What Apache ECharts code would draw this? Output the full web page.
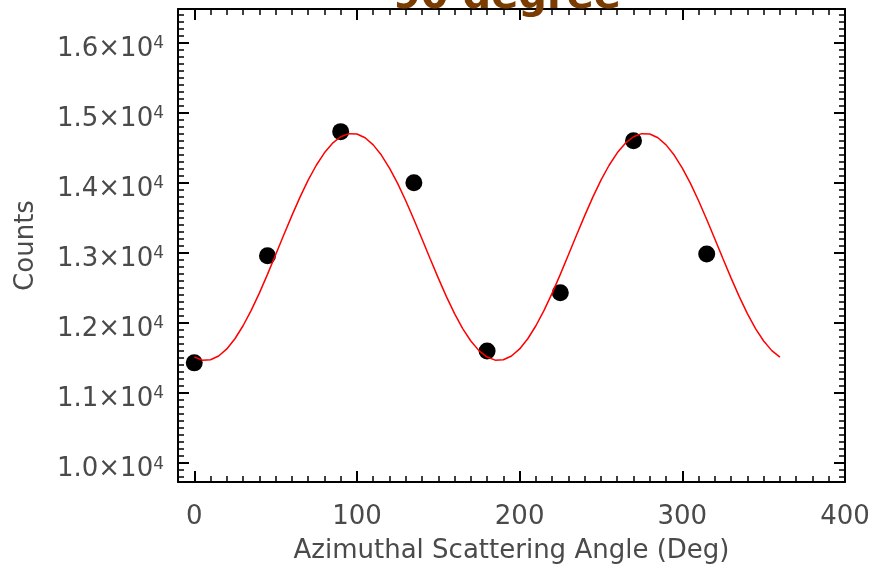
<!DOCTYPE html>
<html><head><meta charset="utf-8">
<script src="https://cdn.jsdelivr.net/npm/echarts@6/dist/echarts.min.js"></script>
<style>html,body{margin:0;padding:0;background:#fff}#c{width:874px;height:566px}</style>
</head><body><div id="c"></div>
<script>
// Measured points
const angles = [0, 45, 90, 135, 180, 225, 270, 315];
const counts = [11430, 12960, 14730, 14000, 11600, 12430, 14600, 12985];
// Fitted curve (every 5 degrees)
const fitAngles = [0,5,10,15,20,25,30,35,40,45,50,55,60,65,70,75,80,85,90,95,100,105,110,115,120,125,130,135,140,145,150,155,160,165,170,175,
  180,185,190,195,200,205,210,215,220,225,230,235,240,245,250,255,260,265,270,275,280,285,290,295,300,305,310,315,320,325,330,335,340,345,350,355,360];
const fitCounts = [11513,11469,11474,11528,11629,11774,11960,12179,12426,12693,12972,13254,13531,13795,14037,14250,14428,14565,14657,14701,14696,14642,14541,14396,14210,13991,13744,13477,13198,12916,12639,12375,12133,11920,11742,11605,
  11513,11469,11474,11528,11629,11774,11960,12179,12426,12693,12972,13254,13531,13795,14037,14250,14428,14565,14657,14701,14696,14642,14541,14396,14210,13991,13744,13477,13198,12916,12639,12375,12133,11920,11742,11605,11513];
// Axis ticks
const xMajorTicks = [0, 100, 200, 300, 400];
const yMajorTicks = [10000, 11000, 12000, 13000, 14000, 15000, 16000];
const xMinorTicks = [];
for (let v = 0; v <= 400; v += 10) xMinorTicks.push(v);
const yMinorTicks = [];
for (let v = 9800; v <= 16400; v += 100) yMinorTicks.push(v);

const titleText = '90 degree';
const xName = 'Azimuthal Scattering Angle (Deg)';
const yName = 'Counts';

const FONT = 'DejaVu Sans';
const TXT = '#4a4a4a';
const XMIN = -10, XMAX = 400, YMIN = 9730, YMAX = 16480;

function xAx(pos, major, withLabel) {
  return {
    type: 'value', position: pos, min: XMIN, max: XMAX,
    axisLine: { show: major, onZero: false, lineStyle: { color: '#000', width: 2 } },
    splitLine: { show: false },
    axisTick: { show: true, inside: true, length: major ? 11 : 6,
      customValues: major ? xMajorTicks : xMinorTicks,
      lineStyle: { color: '#000', width: major ? 2 : 1.5 } },
    axisLabel: withLabel ? { show: true, customValues: xMajorTicks, color: TXT,
      fontSize: 26, fontFamily: FONT, margin: 22 } : { show: false },
    name: withLabel ? xName : '',
    nameLocation: 'middle', nameGap: 56,
    nameTextStyle: { color: TXT, fontSize: 26, fontFamily: FONT }
  };
}
function yAx(pos, major, withLabel) {
  return {
    type: 'value', position: pos, min: YMIN, max: YMAX,
    axisLine: { show: major, onZero: false, lineStyle: { color: '#000', width: 2 } },
    splitLine: { show: false },
    axisTick: { show: true, inside: true, length: major ? 11 : 6,
      customValues: major ? yMajorTicks : yMinorTicks,
      lineStyle: { color: '#000', width: major ? 2 : 1.5 } },
    axisLabel: withLabel ? { show: true, customValues: yMajorTicks, margin: 14,
      formatter: v => '{m|' + (v / 10000).toFixed(1) + '×10}{s|4}',
      rich: {
        m: { fontSize: 26, fontFamily: FONT, color: TXT, lineHeight: 39, verticalAlign: 'bottom' },
        s: { fontSize: 17, fontFamily: FONT, color: TXT, lineHeight: 10, verticalAlign: 'top', padding: [12, 0, 0, 0] }
      }
    } : { show: false },
    name: withLabel ? yName : '',
    nameLocation: 'middle', nameGap: 139,
    nameTextStyle: { color: TXT, fontSize: 26, fontFamily: FONT }
  };
}

const chart = echarts.init(document.getElementById('c'), null, { renderer: 'canvas' });
chart.setOption({
  backgroundColor: '#fff',
  animation: false,
  title: { text: titleText, left: 388, top: -27,
    textStyle: { color: '#7a3c00', fontSize: 40, fontWeight: 'bold', fontFamily: FONT } },
  grid: { left: 178, right: 29, top: 9, bottom: 84, containLabel: false, outerBoundsMode: 'none' },
  xAxis: [xAx('bottom', true, true), xAx('bottom', false, false), xAx('top', true, false), xAx('top', false, false)],
  yAxis: [yAx('left', true, true), yAx('left', false, false), yAx('right', true, false), yAx('right', false, false)],
  series: [
    { type: 'scatter', xAxisIndex: 0, yAxisIndex: 0, symbol: 'circle', symbolSize: 17,
      itemStyle: { color: '#000', opacity: 1 }, data: angles.map((a, i) => [a, counts[i]]), z: 2 },
    { type: 'line', xAxisIndex: 0, yAxisIndex: 0, smooth: false, showSymbol: false,
      lineStyle: { color: '#ff0000', width: 1.5 }, data: fitAngles.map((a, i) => [a, fitCounts[i]]), z: 3 }
  ]
});
</script></body></html>
